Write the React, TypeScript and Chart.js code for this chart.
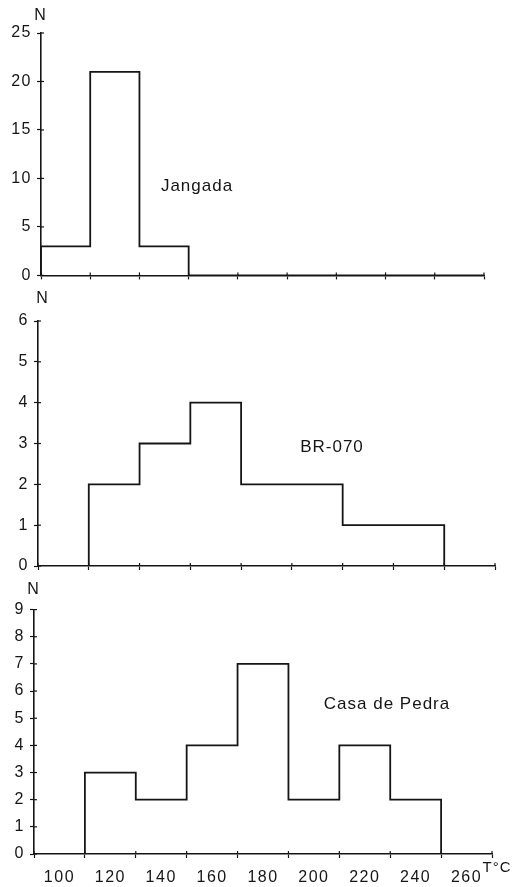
import React, { useEffect, useRef } from "react";
import { Chart, registerables } from "chart.js";

Chart.register(...registerables);

// ---- data ----
const binEdges = [90, 110, 130, 150, 170, 190, 210, 230, 250, 270];
const jangadaCounts = [3, 21, 3, 0, 0, 0, 0, 0, 0];
const br070Counts = [0, 2, 3, 4, 2, 2, 1, 1, 0];
const casaDePedraCounts = [0, 3, 2, 4, 7, 2, 4, 2, 0];
const xTickLabels = [100, 120, 140, 160, 180, 200, 220, 240, 260];
const panelNames = ["Jangada", "BR-070", "Casa de Pedra"];
const yMaxes = [25, 6, 9];
const ySteps = [5, 1, 1];

const INK = "#151515";
const FONT = "'Liberation Sans', Arial, Helvetica, sans-serif";

type Layout = {
  top: number;
  height: number;
  left: number;
  right: number;
  areaTop: number;
  areaBottom: number;
  xAxisH: number;
  labels: boolean;
};

const layouts: Layout[] = [
  { top: 0, height: 290, left: 41, right: 484, areaTop: 33, areaBottom: 277, xAxisH: 8, labels: false },
  { top: 290, height: 305, left: 38, right: 495, areaTop: 321, areaBottom: 566, xAxisH: 8, labels: false },
  { top: 595, height: 292, left: 34, right: 492, areaTop: 607, areaBottom: 854, xAxisH: 33, labels: true },
];

const spacingPlugin = {
  id: "spacing",
  beforeUpdate(chart: any) {
    chart.ctx.letterSpacing = "1.5px";
  },
  beforeDraw(chart: any) {
    chart.ctx.letterSpacing = "1.5px";
  },
};

const crossTicks = {
  id: "crossTicks",
  afterDraw(chart: any) {
    const { ctx, chartArea, scales } = chart;
    ctx.save();
    ctx.strokeStyle = INK;
    ctx.lineWidth = 1.2;
    const xs = scales.x;
    binEdges.forEach((v) => {
      const px = xs.getPixelForValue(v);
      ctx.beginPath();
      ctx.moveTo(px, chartArea.bottom - 3);
      ctx.lineTo(px, chartArea.bottom);
      ctx.stroke();
    });
    const ys = scales.y;
    ys.ticks.forEach((t: any) => {
      const py = ys.getPixelForValue(t.value);
      ctx.beginPath();
      ctx.moveTo(chartArea.left, py);
      ctx.lineTo(chartArea.left + 3, py);
      ctx.stroke();
    });
    ctx.restore();
  },
};

function Panel({ idx }: { idx: number }) {
  const ref = useRef<HTMLCanvasElement>(null);
  const counts = [jangadaCounts, br070Counts, casaDePedraCounts][idx];
  const L = layouts[idx];
  useEffect(() => {
    if (!ref.current) return;
    // stepped "after": vertical at previous x up/down to this y, then across to this x
    const stepData = binEdges.map((e, i) => ({ x: e, y: i === 0 ? 0 : counts[i - 1] }));
    const localTop = L.areaTop - L.top;
    const localBottom = L.areaBottom - L.top;
    const bottomPad = L.height - localBottom - L.xAxisH;
    const chart = new Chart(ref.current, {
      type: "line",
      data: {
        datasets: [
          {
            label: panelNames[idx],
            data: stepData,
            stepped: "after",
            borderColor: INK,
            borderWidth: 1.8,
            pointRadius: 0,
            fill: false,
          },
        ],
      },
      options: {
        animation: false,
        responsive: false,
        events: [],
        layout: { padding: { left: 0, right: 520 - L.right, top: localTop, bottom: bottomPad } },
        plugins: { legend: { display: false }, tooltip: { enabled: false } },
        scales: {
          x: {
            type: "linear",
            min: 90,
            max: 270,
            afterFit: (s: any) => {
              s.height = L.xAxisH;
            },
            border: { color: INK, width: 1.6 },
            grid: {
              drawOnChartArea: false,
              tickLength: 4,
              tickWidth: 1.2,
              tickColor: (c: any) =>
                c.tick && (c.tick.value - 90) % 20 === 0 ? INK : "rgba(0,0,0,0)",
            },
            ticks: {
              stepSize: L.labels ? 10 : 20,
              autoSkip: false,
              maxRotation: 0,
              padding: 10,
              color: INK,
              font: { family: FONT, size: 16 },
              callback: (v: any) =>
                L.labels && xTickLabels.includes(Number(v)) ? String(v) : "",
            },
          },
          y: {
            type: "linear",
            min: 0,
            max: yMaxes[idx],
            afterFit: (s: any) => {
              s.width = L.left;
            },
            border: { color: INK, width: 1.6 },
            grid: { drawOnChartArea: false, tickLength: 4, tickWidth: 1.2, tickColor: INK },
            ticks: {
              stepSize: ySteps[idx],
              padding: 5,
              color: INK,
              font: { family: FONT, size: 16 },
            },
          },
        },
      },
      plugins: [spacingPlugin, crossTicks],
    });
    return () => chart.destroy();
  }, []);
  return (
    <canvas
      ref={ref}
      width={520}
      height={L.height}
      style={{ position: "absolute", left: 0, top: L.top, width: 520, height: L.height }}
    />
  );
}

const textStyle = (x: number, y: number, size: number, ls: number): React.CSSProperties => ({
  position: "absolute",
  left: x,
  top: y,
  transform: "translate(-50%, -50%)",
  fontFamily: FONT,
  fontSize: size,
  letterSpacing: ls,
  color: INK,
  whiteSpace: "nowrap",
  lineHeight: 1,
});

export default function App() {
  return (
    <div style={{ position: "absolute", left: 0, top: 0, width: 520, height: 887, background: "#fff", overflow: "hidden" }}>
      <Panel idx={0} />
      <Panel idx={1} />
      <Panel idx={2} />
      <div style={textStyle(40, 15, 16, 0)}>N</div>
      <div style={textStyle(42, 298, 16, 0)}>N</div>
      <div style={textStyle(33, 589, 16, 0)}>N</div>
      <div style={textStyle(197, 185, 17, 1)}>{panelNames[0]}</div>
      <div style={textStyle(332, 446, 17, 1)}>{panelNames[1]}</div>
      <div style={textStyle(387, 703, 17, 1)}>{panelNames[2]}</div>
      <div style={textStyle(497, 866, 15, 1)}>T°C</div>
    </div>
  );
}
